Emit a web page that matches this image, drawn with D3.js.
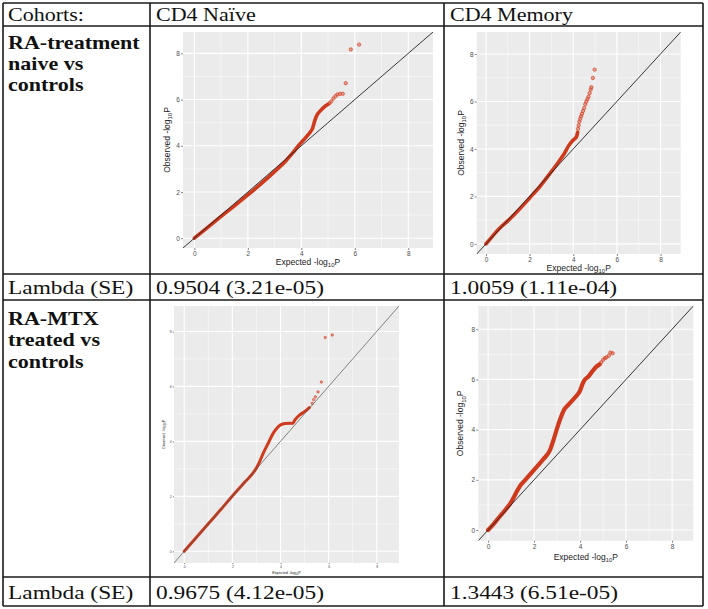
<!DOCTYPE html>
<html><head><meta charset="utf-8">
<script src="https://cdn.jsdelivr.net/npm/d3@7"></script>
<style>body{margin:0;background:#fff}</style>
</head><body>
<svg id="c" width="708" height="609"></svg>
<script>
// ---------- data ----------
const headers = ["Cohorts:", "CD4 Naïve", "CD4 Memory"];
const rowLabels = [["RA-treatment", "naive vs", "controls"], ["RA-MTX", "treated vs", "controls"]];
const lambdaTitle = "Lambda (SE)";
const lambdaValues = ["0.9504 (3.21e-05)", "1.0059 (1.11e-04)", "0.9675 (4.12e-05)", "1.3443 (6.51e-05)"];
const axisTicks = [0, 2, 4, 6, 8];
const minorTicks = [1, 3, 5, 7];
const axisDomain = [-0.425, 8.925];

// CD4 naive, RA-treatment naive
const qq1BodyExp = [0, 0.5, 1, 1.5, 2, 2.5, 3, 3.4, 3.7, 3.9, 4.1, 4.25, 4.35, 4.42, 4.5, 4.6, 4.7, 4.8, 4.9, 5.0];
const qq1BodyObs = [0, 0.47, 0.94, 1.4, 1.87, 2.36, 2.88, 3.32, 3.72, 4.02, 4.27, 4.47, 4.62, 4.75, 5.08, 5.36, 5.5, 5.62, 5.72, 5.8];
const qq1TailExp = [5.05, 5.12, 5.2, 5.28, 5.35, 5.45, 5.55, 5.66, 5.85, 6.16];
const qq1TailObs = [5.84, 5.92, 6.05, 6.15, 6.22, 6.25, 6.25, 6.71, 8.17, 8.38];
// CD4 memory, RA-treatment naive
const qq2BodyExp = [0, 0.3, 0.6, 1, 1.5, 2, 2.5, 3, 3.3, 3.6, 3.8, 4.0, 4.15, 4.2];
const qq2BodyObs = [0, 0.33, 0.64, 0.97, 1.43, 1.93, 2.45, 3.05, 3.42, 3.82, 4.15, 4.38, 4.52, 4.7];
const qq2TailExp = [4.22, 4.25, 4.28, 4.32, 4.36, 4.4, 4.45, 4.5, 4.55, 4.6, 4.65, 4.7, 4.75, 4.8, 4.83, 4.9, 4.98];
const qq2TailObs = [4.85, 5.0, 5.15, 5.27, 5.38, 5.48, 5.6, 5.72, 5.88, 6.0, 6.1, 6.2, 6.35, 6.5, 6.6, 6.99, 7.34];
// CD4 naive, RA-MTX treated
const qq3BodyExp = [0, 0.5, 1, 1.5, 2, 2.5, 3, 3.1, 3.3, 3.5, 3.7, 3.85, 4.0, 4.2, 4.4, 4.5, 4.6, 4.8, 5.0, 5.2];
const qq3BodyObs = [0, 0.5, 1.0, 1.5, 2.01, 2.5, 3.03, 3.2, 3.6, 3.95, 4.3, 4.48, 4.6, 4.65, 4.66, 4.65, 4.78, 4.96, 5.08, 5.23];
const qq3TailExp = [5.32, 5.38, 5.45, 5.56, 5.7, 5.86, 6.15];
const qq3TailObs = [5.38, 5.52, 5.62, 5.8, 6.16, 7.78, 7.87];
// CD4 memory, RA-MTX treated
const qq4BodyExp = [0, 0.25, 0.5, 0.8, 1.0, 1.2, 1.4, 1.6, 2.0, 2.4, 2.7, 2.85, 3.0, 3.15, 3.3, 3.5, 3.8, 4.0, 4.1, 4.2, 4.35, 4.5, 4.7, 4.85];
const qq4BodyObs = [0, 0.25, 0.53, 0.86, 1.1, 1.45, 1.77, 1.98, 2.4, 2.82, 3.2, 3.6, 4.05, 4.45, 4.78, 5.0, 5.3, 5.55, 5.8, 5.98, 6.1, 6.28, 6.5, 6.6];
const qq4TailExp = [4.92, 5.0, 5.08, 5.15, 5.25, 5.32, 5.42];
const qq4TailObs = [6.68, 6.78, 6.85, 6.88, 6.95, 7.07, 7.04];

// ---------- layout ----------
const svg = d3.select("#c");
const serif = "'Liberation Serif','Times New Roman',serif";
const sans = "'Liberation Sans',Arial,sans-serif";
const colX = [3, 150, 444, 703];
const rowY = [3, 26, 274, 300, 577, 606];

const panels = [
  {bx: qq1BodyExp, by: qq1BodyObs, tx: qq1TailExp, ty: qq1TailObs,
   x0: 183, x1: 433, y0: 32, y1: 248, tf: 6.5, af: 8.5, xt: 262, yt: 167, lw: 3.6, r: 1.7, diag: "#222", dw: 0.9},
  {bx: qq2BodyExp, by: qq2BodyObs, tx: qq2TailExp, ty: qq2TailObs,
   x0: 476.7, x1: 680.7, y0: 32, y1: 254, tf: 6.5, af: 8.5, xt: 268, yt: 461, lw: 3.6, r: 1.7, diag: "#222", dw: 0.9},
  {bx: qq3BodyExp, by: qq3BodyObs, tx: qq3TailExp, ty: qq3TailObs,
   x0: 174, x1: 399, y0: 306, y1: 563, tf: 3.5, af: 3.8, xt: 573, yt: 164, lw: 3.0, r: 1.2, diag: "#555", dw: 0.7},
  {bx: qq4BodyExp, by: qq4BodyObs, tx: qq4TailExp, ty: qq4TailObs,
   x0: 478.3, x1: 693.3, y0: 306, y1: 540.7, tf: 6.5, af: 8.5, xt: 557, yt: 460.5, lw: 4.2, r: 1.7, diag: "#222", dw: 0.9}
];

panels.forEach((p, i) => {
  const x = d3.scaleLinear().domain(axisDomain).range([p.x0, p.x1]);
  const y = d3.scaleLinear().domain(axisDomain).range([p.y1, p.y0]);
  const g = svg.append("g");
  g.append("rect").attr("x", p.x0).attr("y", p.y0).attr("width", p.x1 - p.x0).attr("height", p.y1 - p.y0).attr("fill", "#ebebeb");
  const clipId = "clip" + i;
  g.append("clipPath").attr("id", clipId).append("rect")
    .attr("x", p.x0).attr("y", p.y0).attr("width", p.x1 - p.x0).attr("height", p.y1 - p.y0);
  // grid
  g.selectAll(".mx").data(minorTicks).join("line")
    .attr("x1", d => x(d)).attr("x2", d => x(d)).attr("y1", p.y0).attr("y2", p.y1)
    .attr("stroke", "#fff").attr("stroke-width", 0.5);
  g.selectAll(".my").data(minorTicks).join("line")
    .attr("y1", d => y(d)).attr("y2", d => y(d)).attr("x1", p.x0).attr("x2", p.x1)
    .attr("stroke", "#fff").attr("stroke-width", 0.5);
  g.selectAll(".Mx").data(axisTicks).join("line")
    .attr("x1", d => x(d)).attr("x2", d => x(d)).attr("y1", p.y0).attr("y2", p.y1)
    .attr("stroke", "#fff").attr("stroke-width", 1.1);
  g.selectAll(".My").data(axisTicks).join("line")
    .attr("y1", d => y(d)).attr("y2", d => y(d)).attr("x1", p.x0).attr("x2", p.x1)
    .attr("stroke", "#fff").attr("stroke-width", 1.1);
  const pg = g.append("g").attr("clip-path", `url(#${clipId})`);
  const body = p.bx.map((v, k) => [v, p.by[k]]);
  const tail = p.tx.map((v, k) => [v, p.ty[k]]);
  pg.append("path").datum(body)
    .attr("d", d3.line().x(d => x(d[0])).y(d => y(d[1])).curve(d3.curveMonotoneX))
    .attr("fill", "none").attr("stroke", "#cf3a1d").attr("stroke-width", p.lw)
    .attr("stroke-linecap", "round").attr("stroke-linejoin", "round");
  pg.selectAll("circle").data(tail).join("circle")
    .attr("cx", d => x(d[0])).attr("cy", d => y(d[1])).attr("r", p.r)
    .attr("fill", "#e0583a").attr("fill-opacity", 0.55).attr("stroke", "#cc3518").attr("stroke-width", 0.6);
  pg.append("line")
    .attr("x1", x(axisDomain[0])).attr("y1", y(axisDomain[0]))
    .attr("x2", x(axisDomain[1])).attr("y2", y(axisDomain[1]))
    .attr("stroke", p.diag).attr("stroke-width", p.dw);
  // axes
  const ts = p.tf < 5 ? 1.2 : 2;
  const ax = g.append("g").attr("transform", `translate(0,${p.y1})`)
    .call(d3.axisBottom(x).tickValues(axisTicks).tickSize(ts).tickPadding(1.2).tickFormat(d3.format("d")));
  const ay = g.append("g").attr("transform", `translate(${p.x0},0)`)
    .call(d3.axisLeft(y).tickValues(axisTicks).tickSize(ts).tickPadding(1.2).tickFormat(d3.format("d")));
  [ax, ay].forEach(a => {
    a.select(".domain").remove();
    a.selectAll(".tick line").attr("stroke", "#333").attr("stroke-width", 0.6);
    a.selectAll(".tick text").attr("fill", "#4d4d4d").attr("font-size", p.tf).attr("font-family", sans);
  });
  // titles
  const xt = g.append("text").attr("x", (p.x0 + p.x1) / 2).attr("y", p.xt).attr("dy", "0.35em")
    .attr("text-anchor", "middle").attr("font-family", sans).attr("font-size", p.af).attr("fill", "#222");
  xt.append("tspan").text("Expected -log");
  xt.append("tspan").text("10").attr("font-size", p.af * 0.7).attr("dy", p.af * 0.25);
  xt.append("tspan").text("P").attr("dy", -p.af * 0.25);
  const cy = (p.y0 + p.y1) / 2;
  const yt = g.append("text").attr("transform", `translate(${p.yt},${cy}) rotate(-90)`).attr("dy", "0.35em")
    .attr("text-anchor", "middle").attr("font-family", sans).attr("font-size", p.af).attr("fill", "#222");
  yt.append("tspan").text("Observed -log");
  yt.append("tspan").text("10").attr("font-size", p.af * 0.7).attr("dy", p.af * 0.25);
  yt.append("tspan").text("P").attr("dy", -p.af * 0.25);
});

// ---------- table ----------
const tg = svg.append("g");
rowY.forEach(yy => tg.append("line").attr("x1", colX[0]).attr("x2", colX[3]).attr("y1", yy).attr("y2", yy)
  .attr("stroke", "#1a1a1a").attr("stroke-width", 1.6));
colX.forEach(xx => tg.append("line").attr("x1", xx).attr("x2", xx).attr("y1", rowY[0]).attr("y2", rowY[5])
  .attr("stroke", "#1a1a1a").attr("stroke-width", 1.6));

function cellText(x, y, s, sx, bold) {
  return tg.append("text").attr("transform", `translate(${x},${y}) scale(${sx},1)`).text(s)
    .attr("font-family", serif).attr("font-size", 19).attr("font-weight", bold ? "bold" : "normal").attr("fill", "#111");
}
const textX = [8, 156, 450];
headers.forEach((h, i) => cellText(textX[i], 20.5, h, 1.16, false));

const labelBase = [48.5, 324.5];
const labelStep = [21.3, 21.8];
rowLabels.forEach((lines, r) => lines.forEach((s, k) =>
  cellText(textX[0], labelBase[r] + k * labelStep[r], s, 1.16, true)));

const lambdaBase = [294, 599];
lambdaBase.forEach((b, r) => {
  cellText(textX[0], b, lambdaTitle, 1.23, false);
  [0, 1].forEach(c => cellText(textX[c + 1], b, lambdaValues[r * 2 + c], 1.23, false));
});
</script>
</body></html>
